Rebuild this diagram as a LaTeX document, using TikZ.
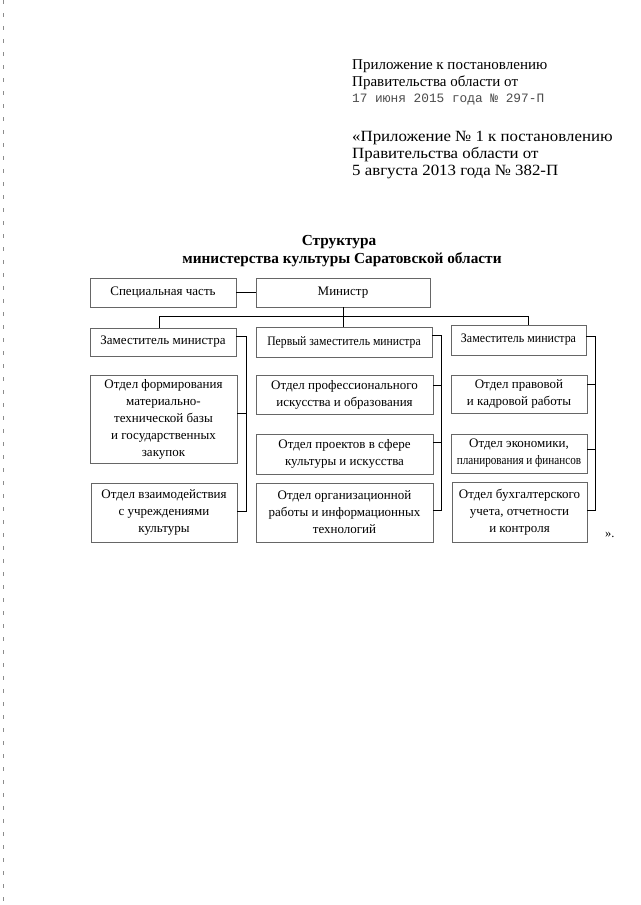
\documentclass[tikz,border=0pt]{standalone}
\usepackage{fontspec}
\usepackage{graphicx}
\setmainfont{Liberation Serif}
\newfontfamily\monofnt{Liberation Mono}
\usetikzlibrary{calc}
\tikzset{
  boxnode/.style={draw=black!60, line width=0.8pt, align=center, inner sep=2pt,
    font=\fontsize{13}{17}\selectfont},
  conn/.style={draw=black, line width=0.9pt},
  hdr/.style={anchor=base west, inner sep=0pt, font=\fontsize{15}{18}\selectfont},
  ttl/.style={anchor=base, inner sep=0pt, font=\fontsize{15.3}{18}\selectfont\bfseries}
}
\begin{document}
\begin{tikzpicture}[x=1pt,y=1pt]
\useasboundingbox (0,0) rectangle (640,-905);
\fill[white] (0,0) rectangle (640,-905);
% scan margin marks
\draw[black!45, line width=0.6pt, dash pattern=on 4pt off 9pt] (3,0) -- (3,-905);
% header
\node[hdr] (h1) at (352,-69.5) {Приложение к постановлению};
\node[hdr] (h2) at (352,-86) {Правительства области от};
\node[hdr, font=\fontsize{12.8}{16}\monofnt, text=black!70] (h3) at (352,-102) {17 июня 2015 года № 297-П};
\node[hdr, font=\fontsize{15.6}{18}\selectfont] (h4) at (352,-141) {\scalebox{1.08}[1]{«Приложение № 1 к постановлению}};
\node[hdr, font=\fontsize{15.6}{18}\selectfont] (h5) at (352,-158) {\scalebox{1.08}[1]{Правительства области от}};
\node[hdr, font=\fontsize{15.6}{18}\selectfont] (h6) at (352,-175) {\scalebox{1.08}[1]{5 августа 2013 года № 382-П}};
% title
\node[ttl] (t1) at (339,-245) {Структура};
\node[ttl] (t2) at (342,-263) {министерства культуры Саратовской области};
% top row
\node[boxnode, minimum width=146, minimum height=29] (spec) at (163,-292.5) {Специальная часть};
\node[boxnode, minimum width=174, minimum height=29] (min) at (343,-292.5) {Министр};
% deputies
\node[boxnode, minimum width=146, minimum height=28] (z1) at (163,-342) {Заместитель министра};
\node[boxnode, minimum width=176, minimum height=30] (z2) at (344,-342) {\scalebox{0.9}[1]{Первый заместитель министра}};
\node[boxnode, minimum width=135, minimum height=30] (z3) at (518.5,-340) {\scalebox{0.92}[1]{Заместитель министра}};
% departments left
\node[boxnode, minimum width=147, minimum height=88] (d11) at (163.5,-419) {Отдел формирования\\материально-\\технической базы\\и государственных\\закупок};
\node[boxnode, minimum width=146, minimum height=59] (d12) at (164,-512.5) {Отдел взаимодействия\\с учреждениями\\культуры};
% departments middle
\node[boxnode, minimum width=177, minimum height=39] (d21) at (344.5,-394.5) {Отдел профессионального\\искусства и образования};
\node[boxnode, minimum width=177, minimum height=40] (d22) at (344.5,-454) {Отдел проектов в сфере\\культуры и искусства};
\node[boxnode, minimum width=177, minimum height=59] (d23) at (344.5,-512.5) {Отдел организационной\\работы и информационных\\технологий};
% departments right
\node[boxnode, minimum width=136, minimum height=38] (d31) at (519,-394) {Отдел правовой\\и кадровой работы};
\node[boxnode, minimum width=136, minimum height=39] (d32) at (519,-453.5) {Отдел экономики,\\\scalebox{0.86}[1]{планирования и финансов}};
\node[boxnode, minimum width=135, minimum height=60] (d33) at (519.5,-512) {Отдел бухгалтерского\\учета, отчетности\\и контроля};
\node[anchor=base west, inner sep=0pt, font=\fontsize{12.5}{15}\selectfont] (q) at (605,-537) {».};
% connectors top
\draw[conn] (spec) -- (min);
\coordinate (busL) at (159,-316);
\coordinate (busR) at (528,-316);
\draw[conn] (min.south) -- (min.south |- busL);
\draw[conn] (busL |- z1.north) -- (busL) -- (busR) -- (busR |- z3.north);
\draw[conn] (min.south |- busL) -- (min.south |- z2.north);
% left bracket
\coordinate (bx1) at (246,0);
\coordinate (a1) at ($(z1.north east)!0.32!(z1.south east)$);
\coordinate (a2) at ($(d11.north east)!0.44!(d11.south east)$);
\coordinate (a3) at ($(d12.north east)!0.49!(d12.south east)$);
\draw[conn] (a1) -- (a1 -| bx1) -- (a3 -| bx1) -- (a3);
\draw[conn] (a2) -- (a2 -| bx1);
% middle bracket
\coordinate (bx2) at (441,0);
\coordinate (b1) at ($(z2.north east)!0.3!(z2.south east)$);
\coordinate (b2) at ($(d21.north east)!0.26!(d21.south east)$);
\coordinate (b3) at ($(d22.north east)!0.22!(d22.south east)$);
\coordinate (b4) at ($(d23.north east)!0.46!(d23.south east)$);
\draw[conn] (b1) -- (b1 -| bx2) -- (b4 -| bx2) -- (b4);
\draw[conn] (b2) -- (b2 -| bx2);
\draw[conn] (b3) -- (b3 -| bx2);
% right bracket
\coordinate (bx3) at (595,0);
\coordinate (c1) at ($(z3.north east)!0.37!(z3.south east)$);
\coordinate (c2) at ($(d31.north east)!0.26!(d31.south east)$);
\coordinate (c3) at ($(d32.north east)!0.41!(d32.south east)$);
\coordinate (c4) at ($(d33.north east)!0.48!(d33.south east)$);
\draw[conn] (c1) -- (c1 -| bx3) -- (c4 -| bx3) -- (c4);
\draw[conn] (c2) -- (c2 -| bx3);
\draw[conn] (c3) -- (c3 -| bx3);
\end{tikzpicture}
\end{document}
